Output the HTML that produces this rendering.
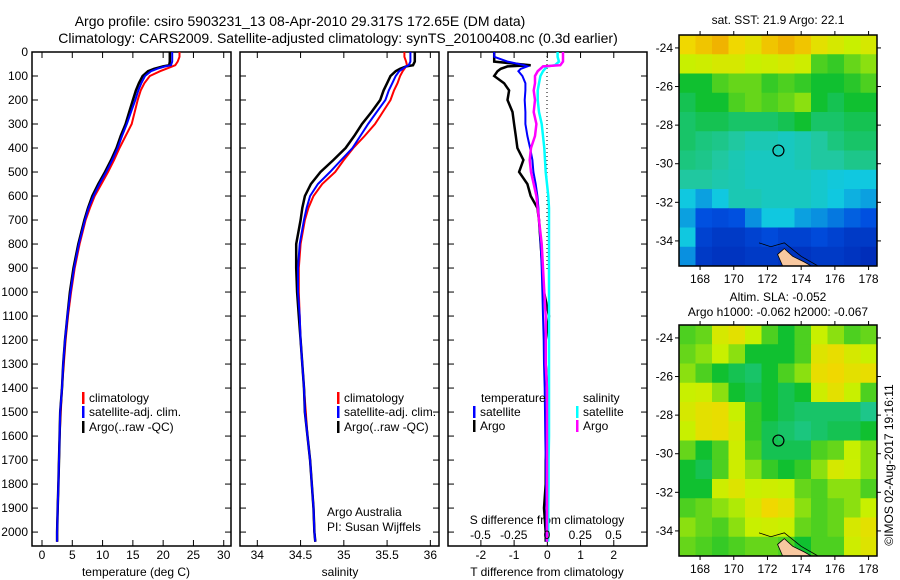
<!DOCTYPE html>
<html><head><meta charset="utf-8"><style>
html,body{margin:0;padding:0;background:#fff}
svg{display:block;font-family:"Liberation Sans",sans-serif}
</style></head><body>
<svg id="s" width="900" height="580" viewBox="0 0 900 580">
<text x="300" y="26" font-size="14" text-anchor="middle">Argo profile: csiro 5903231_13 08-Apr-2010 29.317S 172.65E (DM data)</text>
<text x="338" y="43" font-size="14" text-anchor="middle">Climatology: CARS2009. Satellite-adjusted climatology: synTS_20100408.nc (0.3d earlier)</text>
<text x="778" y="24" font-size="12" text-anchor="middle">sat. SST: 21.9 Argo: 22.1</text>
<text x="778" y="301" font-size="12" text-anchor="middle">Altim. SLA: -0.052</text>
<text x="778" y="316" font-size="12" text-anchor="middle">Argo h1000: -0.062 h2000: -0.067</text>
<text transform="translate(893,465) rotate(-90)" font-size="12" text-anchor="middle">©IMOS 02-Aug-2017 19:16:11</text>
<text x="327" y="516" font-size="12">Argo Australia</text>
<text x="327" y="531" font-size="12">PI: Susan Wijffels</text>
<text x="547" y="524" font-size="12" text-anchor="middle">S difference from climatology</text>
<text x="136" y="576" font-size="12" text-anchor="middle">temperature (deg C)</text>
<text x="340" y="576" font-size="12" text-anchor="middle">salinity</text>
<text x="547" y="576" font-size="12" text-anchor="middle">T difference from climatology</text>
<g id="g"></g>
</svg>
<script>
const depths=[0,20,40,55,60,70,80,100,130,160,200,250,300,350,400,450,500,550,600,650,700,800,900,1000,1100,1200,1300,1400,1500,1600,1700,1800,1900,2000,2040];
const tempArgo=[21.1,21.1,21.1,21,20,18.5,17.5,16.6,16,15.5,15,14.4,13.8,13,12.3,11.4,10.4,9.3,8.3,7.6,7.0,6.0,5.2,4.6,4.2,3.8,3.5,3.3,3.0,2.9,2.8,2.7,2.6,2.5,2.5];
const tempSat=[21.5,21.5,21.5,21.3,20.3,19,18,17,16.4,15.9,15.4,14.7,14,13.2,12.5,11.6,10.6,9.5,8.5,7.7,7.1,6.1,5.3,4.7,4.2,3.8,3.5,3.3,3.0,2.9,2.8,2.7,2.6,2.5,2.5];
const tempClim=[22.7,22.7,22.4,22,21.5,20.5,19.5,17.8,16.9,16.3,15.8,15.3,14.8,13.8,12.8,11.9,10.9,9.8,8.7,7.9,7.2,6.2,5.4,4.8,4.3,3.9,3.6,3.3,3.1,2.9,2.8,2.7,2.6,2.5,2.5];
const salArgo=[35.82,35.82,35.82,35.8,35.72,35.65,35.6,35.54,35.5,35.46,35.42,35.32,35.21,35.12,35.02,34.88,34.73,34.62,34.55,34.52,34.5,34.45,34.45,34.46,34.48,34.5,34.52,34.54,34.55,34.58,34.61,34.63,34.65,34.66,34.67];
const salSat=[35.77,35.77,35.77,35.75,35.72,35.68,35.64,35.6,35.56,35.52,35.48,35.38,35.28,35.19,35.1,34.97,34.84,34.7,34.61,34.57,34.54,34.49,34.47,34.47,34.49,34.5,34.52,34.54,34.55,34.58,34.61,34.63,34.65,34.66,34.67];
const salClim=[35.7,35.7,35.72,35.73,35.72,35.7,35.68,35.65,35.62,35.58,35.54,35.45,35.36,35.24,35.11,35.0,34.9,34.75,34.65,34.59,34.55,34.5,34.48,34.48,34.49,34.5,34.52,34.54,34.56,34.58,34.61,34.63,34.65,34.66,34.67];
const dTArgo=[-1.6,-1.6,-1.6,-0.5,-1.2,-1.4,-1.5,-1.6,-1.3,-1.15,-1.2,-1.05,-1.0,-0.95,-0.9,-0.72,-0.85,-0.6,-0.5,-0.3,-0.25,-0.2,-0.15,-0.1,0.05,-0.05,-0.05,0,0,0,-0.05,-0.05,-0.1,-0.05,-0.05];
const dTSat=[-1.6,-1.6,-1.2,-0.7,-0.6,-0.8,-0.87,-0.75,-0.66,-0.66,-0.68,-0.66,-0.66,-0.6,-0.52,-0.45,-0.42,-0.35,-0.3,-0.27,-0.25,-0.2,-0.17,-0.15,-0.13,-0.11,-0.1,-0.08,-0.07,-0.06,-0.05,-0.04,-0.03,-0.03,-0.03];
const dSArgo=[0.12,0.12,0.12,0.1,-0.03,-0.05,-0.07,-0.09,-0.09,-0.1,-0.09,-0.1,-0.08,-0.09,-0.12,-0.13,-0.12,-0.1,-0.08,-0.07,-0.06,-0.04,-0.03,-0.02,-0.01,-0.01,-0.01,0,0,0,0,0,0,0,0];
const dSSat=[0.08,0.08,0.09,0.06,0.0,-0.015,-0.03,-0.05,-0.06,-0.07,-0.07,-0.06,-0.04,-0.03,-0.02,-0.015,-0.01,0,0.01,0.015,0.015,0.015,0.015,0.015,0.015,0.015,0.015,0.015,0.015,0.015,0.012,0.012,0.01,0.01,0.01];
const depthTicks=[0,100,200,300,400,500,600,700,800,900,1000,1100,1200,1300,1400,1500,1600,1700,1800,1900,2000];
const tempTicks=[0,5,10,15,20,25,30];
const salTicks=[34,34.5,35,35.5,36];
const salTickLabels=["34","34.5","35","35.5","36"];
const dTTicks=[-2,-1,0,1,2];
const dSTicks=[-0.5,-0.25,0,0.25,0.5];
const dSTickLabels=["-0.5","-0.25","0","0.25","0.5"];
const lonTicks=[168,170,172,174,176,178];
const latTicks=[-24,-26,-28,-30,-32,-34];
const sstGrid=[
[0.85,0.9,0.95,0.85,0.8,0.9,0.95,0.9,0.8,0.75,0.7,0.75],
[0.7,0.72,0.75,0.75,0.7,0.72,0.75,0.72,0.6,0.58,0.62,0.65],
[0.55,0.55,0.6,0.62,0.62,0.58,0.6,0.58,0.55,0.55,0.57,0.6],
[0.52,0.55,0.55,0.6,0.62,0.6,0.62,0.65,0.55,0.52,0.55,0.55],
[0.5,0.52,0.52,0.5,0.5,0.5,0.52,0.55,0.5,0.5,0.52,0.52],
[0.5,0.48,0.47,0.45,0.42,0.42,0.4,0.42,0.45,0.48,0.5,0.5],
[0.48,0.47,0.45,0.42,0.4,0.4,0.4,0.42,0.45,0.45,0.47,0.47],
[0.45,0.45,0.43,0.42,0.4,0.4,0.4,0.4,0.38,0.36,0.35,0.35],
[0.35,0.3,0.35,0.42,0.42,0.4,0.4,0.4,0.38,0.35,0.32,0.3],
[0.3,0.2,0.18,0.2,0.28,0.35,0.35,0.3,0.28,0.25,0.22,0.2],
[0.35,0.15,0.12,0.12,0.15,0.18,0.15,0.15,0.18,0.15,0.12,0.12],
[0.28,0.12,0.1,0.1,0.12,0.12,0.1,0.1,0.12,0.12,0.1,0.08]];
const slaGrid=[
[0.6,0.62,0.75,0.8,0.7,0.6,0.55,0.6,0.7,0.65,0.6,0.62],
[0.62,0.65,0.7,0.65,0.55,0.55,0.55,0.6,0.78,0.82,0.75,0.7],
[0.65,0.6,0.55,0.52,0.5,0.55,0.6,0.65,0.82,0.85,0.8,0.82],
[0.7,0.72,0.65,0.55,0.52,0.55,0.52,0.55,0.72,0.8,0.7,0.6],
[0.75,0.8,0.82,0.7,0.58,0.55,0.52,0.5,0.5,0.5,0.5,0.47],
[0.7,0.8,0.82,0.75,0.58,0.52,0.5,0.48,0.5,0.52,0.52,0.55],
[0.62,0.55,0.6,0.72,0.6,0.52,0.52,0.52,0.6,0.62,0.7,0.65],
[0.55,0.52,0.6,0.72,0.65,0.58,0.55,0.58,0.65,0.75,0.72,0.65],
[0.55,0.55,0.72,0.78,0.7,0.72,0.7,0.62,0.6,0.65,0.65,0.6],
[0.6,0.62,0.65,0.68,0.75,0.85,0.8,0.65,0.6,0.62,0.65,0.7],
[0.65,0.62,0.6,0.65,0.7,0.72,0.7,0.62,0.6,0.62,0.75,0.8],
[0.62,0.6,0.58,0.6,0.62,0.62,0.6,0.55,0.6,0.6,0.72,0.78]];
const floatLon=172.65, floatLat=-29.317;

const NS='http://www.w3.org/2000/svg';
const G=document.getElementById('g');
function mk(t,a,p){const e=document.createElementNS(NS,t);for(const k in a)e.setAttribute(k,a[k]);(p||G).appendChild(e);return e;}
const TOP=52,BOT=546,D0=0,D1=2058;
const yD=d=>TOP+(d-D0)/(D1-D0)*(BOT-TOP);
function panel(name,x0,x1,v0,v1,ticks,labels,showDepth){
  const g=mk('g',{});
  
  
  const xf=v=>x0+(v-v0)/(v1-v0)*(x1-x0);
  const fr=mk('rect',{x:x0,y:TOP,width:x1-x0,height:BOT-TOP,fill:'none',stroke:'#000','stroke-width':1.5},g);
  
  
  depthTicks.forEach(d=>{const y=yD(d);
    mk('line',{x1:x0,x2:x0+6,y1:y,y2:y,stroke:'#000'},g);
    mk('line',{x1:x1-6,x2:x1,y1:y,y2:y,stroke:'#000'},g);
    if(showDepth){const t=mk('text',{x:x0-4,y:y+4,'font-size':12,'text-anchor':'end'},g);t.textContent=d;
      
      }
  });
  ticks.forEach((v,i)=>{const x=xf(v);
    mk('line',{x1:x,x2:x,y1:BOT,y2:BOT-6,stroke:'#000'},g);
    mk('line',{x1:x,x2:x,y1:TOP,y2:TOP+6,stroke:'#000'},g);
    if(labels){const t=mk('text',{x:x,y:BOT+13,'font-size':12,'text-anchor':'middle'},g);t.textContent=labels[i];
      
      }
  });
  return {g,xf};
}
function line(p,vals,color,name,w){
  const pts=vals.map((v,i)=>p.xf(v).toFixed(1)+','+yD(depths[i]).toFixed(1)).join(' ');
  const e=mk('polyline',{points:pts,fill:'none',stroke:color,'stroke-width':w||2,'stroke-linejoin':'miter'},p.g);
  
  
}
function legendItem(g,x,y,color,label,name){
  if(color) mk('rect',{x:x,y:y-10,width:2.5,height:12,fill:color},g);
  const t=mk('text',{x:x+7,y:y,'font-size':12},g);t.textContent=label;
  
  
}
// Panel 1
const p1=panel('temperature-panel',32,231,-1.65,31.2,tempTicks,tempTicks.map(String),true);
line(p1,tempClim,'#f00','temp-climatology-line');
line(p1,tempArgo,'#000','temp-argo-line',2.5);
line(p1,tempSat,'#00f','temp-satellite-line');
legendItem(p1.g,82,402,'#f00','climatology','legend-climatology');
legendItem(p1.g,82,416,'#00f','satellite-adj. clim.','legend-satellite');
legendItem(p1.g,82,431,'#000','Argo(..raw -QC)','legend-argo');
// Panel 2
const p2=panel('salinity-panel',240,439,33.8,36.1,salTicks,salTickLabels,false);
line(p2,salClim,'#f00','sal-climatology-line');
line(p2,salArgo,'#000','sal-argo-line',2.5);
line(p2,salSat,'#00f','sal-satellite-line');
legendItem(p2.g,337,402,'#f00','climatology','legend-climatology-2');
legendItem(p2.g,337,416,'#00f','satellite-adj. clim.','legend-satellite-2');
legendItem(p2.g,337,431,'#000','Argo(..raw -QC)','legend-argo-2');
// Panel 3
const p3=panel('difference-panel',448,647,-2.99,3.0,dTTicks,dTTicks.map(String),false);
const p3s={g:p3.g,xf:v=>547+v*133};
mk('line',{x1:547,x2:547,y1:TOP,y2:270,stroke:'#000','stroke-dasharray':'1,3'},p3.g);
line(p3,dTArgo,'#000','dT-argo-line',2.5);
line(p3,dTSat,'#00f','dT-satellite-line');
line(p3s,dSSat,'#0ff','dS-satellite-line',2.5);
line(p3s,dSArgo,'#f0f','dS-argo-line',2.5);
legendItem(p3.g,474,402,null,'temperature','legend-temperature-heading');
legendItem(p3.g,473,416,'#00f','satellite','legend-t-satellite');
legendItem(p3.g,473,430,'#000','Argo','legend-t-argo');
legendItem(p3.g,576,402,null,'salinity','legend-salinity-heading');
legendItem(p3.g,576,416,'#0ff','satellite','legend-s-satellite');
legendItem(p3.g,576,430,'#f0f','Argo','legend-s-argo');
dSTicks.forEach((v,i)=>{const t=mk('text',{x:p3s.xf(v),y:539,'font-size':12,'text-anchor':'middle'},p3.g);t.textContent=dSTickLabels[i];
  
  });
// Maps
const stops=[[0,[0,24,160]],[0.2,[0,80,224]],[0.35,[16,200,224]],[0.45,[32,200,160]],[0.55,[16,192,48]],[0.7,[200,240,0]],[0.85,[240,216,0]],[1,[240,160,0]]];
function cmap(v){for(let i=1;i<stops.length;i++){if(v<=stops[i][0]){const a=stops[i-1],b=stops[i],t=(v-a[0])/(b[0]-a[0]);return 'rgb('+a[1].map((c,j)=>Math.round(c+(b[1][j]-c)*t)).join(',')+')';}}return 'rgb(240,160,0)';}
function map(name,y0,grid){
  const X0=679,X1=877,Y1=y0+231,L0=166.75,L1=178.5,T0=-23.33,T1=-35.3;
  const g=mk('g',{});
  
  
  const xf=l=>X0+(l-L0)/(L1-L0)*(X1-X0), yf=la=>y0+(la-T0)/(T1-T0)*(Y1-y0);
  const rows=grid.length,cols=grid[0].length,cw=(X1-X0)/cols,ch=(Y1-y0)/rows;
  grid.forEach((r,i)=>r.forEach((v,j)=>{
    const c=mk('rect',{x:X0+j*cw,y:y0+i*ch,width:cw+0.5,height:ch+0.5,fill:cmap(v)},g);
    
    
  }));
  mk('polygon',{points:[[173,-34.4],[173.5,-34.8],[174.2,-35.1],[174.6,-35.3],[172.9,-35.3],[172.6,-34.7]].map(p=>xf(p[0])+','+yf(p[1])).join(' '),fill:'#f8c8a0',stroke:'#000','stroke-width':0.8},g);
  mk('polyline',{points:[[171.5,-34.1],[172.2,-34.3],[173,-34.1],[174,-34.8],[175,-35.3]].map(p=>xf(p[0])+','+yf(p[1])).join(' '),fill:'none',stroke:'#000','stroke-width':0.8},g);
  const c=mk('circle',{cx:xf(floatLon),cy:yf(floatLat),r:5.5,fill:'none',stroke:'#000','stroke-width':1.2},g);
  
  
  mk('rect',{x:X0,y:y0,width:X1-X0,height:Y1-y0,fill:'none',stroke:'#000','stroke-width':1.5},g);
  lonTicks.forEach(l=>{const x=xf(l);mk('line',{x1:x,x2:x,y1:Y1,y2:Y1+4,stroke:'#000'},g);mk('line',{x1:x,x2:x,y1:y0,y2:y0-4,stroke:'#000'},g);
    const t=mk('text',{x:x,y:Y1+17,'font-size':12,'text-anchor':'middle'},g);t.textContent=l;
    
    });
  latTicks.forEach(la=>{const y=yf(la);mk('line',{x1:X0-4,x2:X0,y1:y,y2:y,stroke:'#000'},g);mk('line',{x1:X1,x2:X1+4,y1:y,y2:y,stroke:'#000'},g);
    const t=mk('text',{x:X0-6,y:y+4,'font-size':12,'text-anchor':'end'},g);t.textContent=la;
    
    });
}
map('sst-map',35,sstGrid);
map('sla-map',325,slaGrid);
</script>
</body></html>
